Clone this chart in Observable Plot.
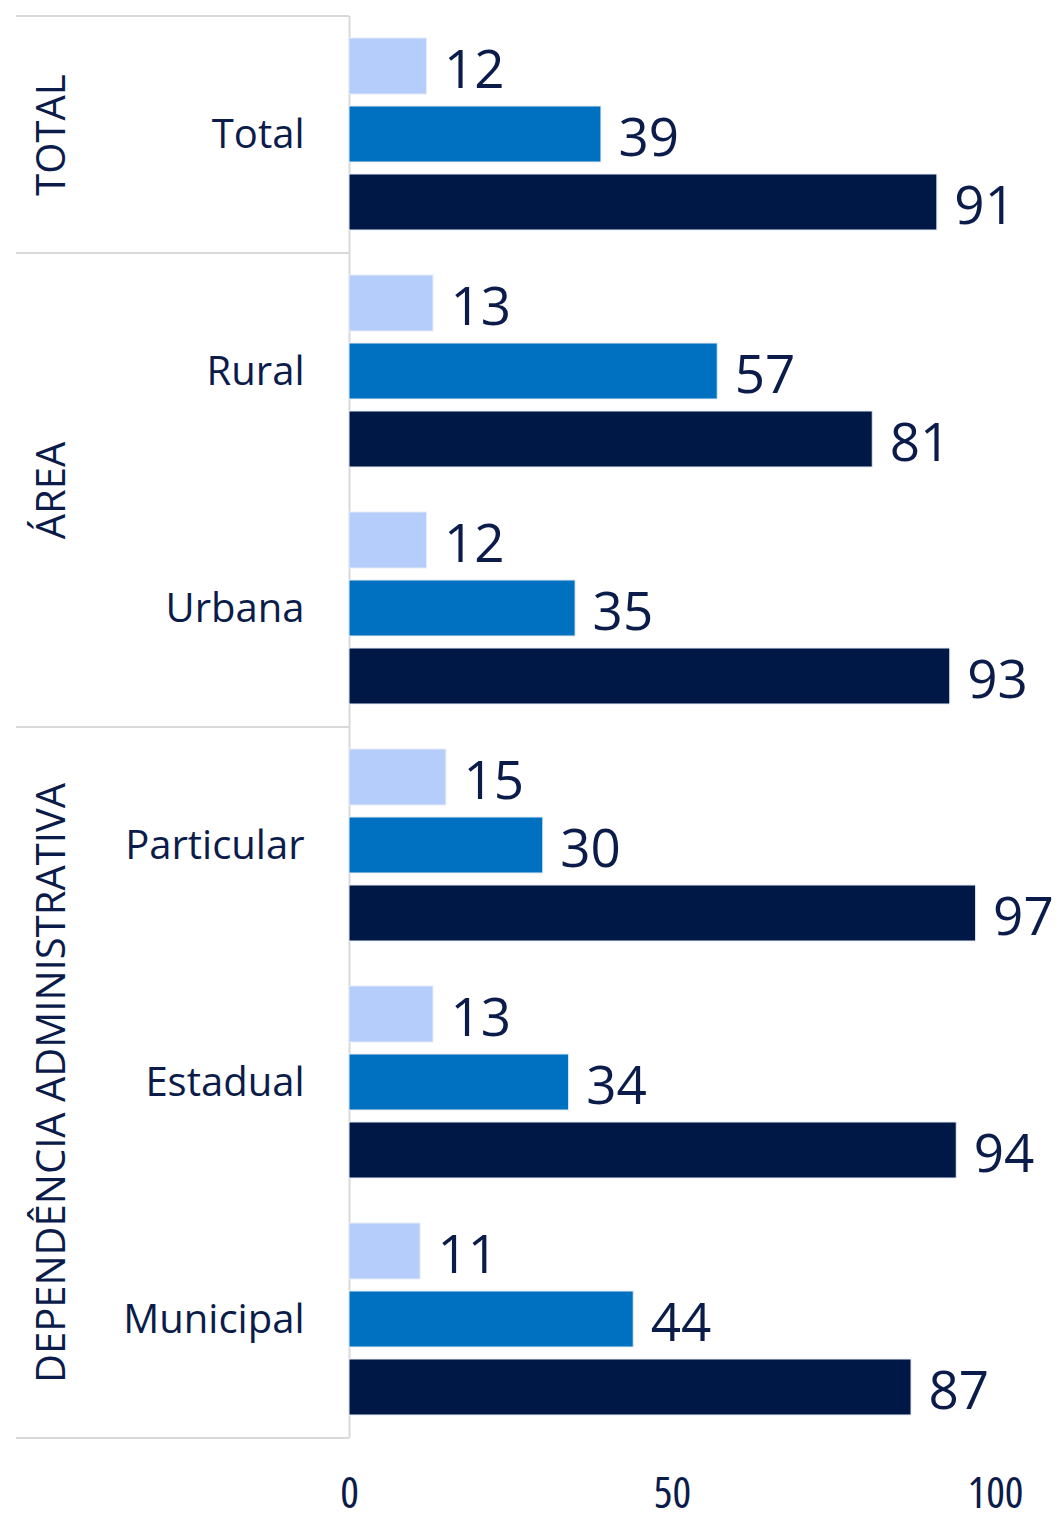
<!DOCTYPE html>
<html>
<head>
<meta charset="utf-8">
<script src="https://cdn.jsdelivr.net/npm/d3@7"></script>
<script src="https://cdn.jsdelivr.net/npm/@observablehq/plot@0.6"></script>
<style>
  html, body { margin: 0; padding: 0; background: #ffffff; }
  #chart { width: 1059px; height: 1518px; }
  .tick text { font-stretch: 80%; }
</style>
</head>
<body>
<div id="chart"></div>
<script>
// ---- data ----
const categories = ["Total", "Rural", "Urbana", "Particular", "Estadual", "Municipal"];
const seriesNames = ["Série 1", "Série 2", "Série 3"];
const series1 = [12, 13, 12, 15, 13, 11];
const series2 = [39, 57, 35, 30, 34, 44];
const series3 = [91, 81, 93, 97, 94, 87];
const groupLabels = ["TOTAL", "ÁREA", "DEPENDÊNCIA ADMINISTRATIVA"];
const groupAnchorCategory = ["Total", "Rural", "Estadual"];
const xTicks = [0, 50, 100];
const colors = ["#b4cdfb", "#0070c0", "#001845"];

const textColor = "#0b1c4a";
const numFont = "'Open Sans', 'Noto Sans', sans-serif";
const labelFont = "'Open Sans', 'Noto Sans', sans-serif";

const rows = [];
const seriesValues = [series1, series2, series3];
categories.forEach((c, i) => {
  seriesNames.forEach((s, j) => {
    rows.push({category: c, series: s, value: seriesValues[j][i]});
  });
});
const groups = groupLabels.map((g, i) => ({label: g, category: groupAnchorCategory[i]}));
const groupTextOptions = {
  fy: "category", text: "label", rotate: -90, lineAnchor: "middle",
  textAnchor: "middle", dx: -297, fill: textColor, fontSize: 40, fontFamily: labelFont
};

const plot = Plot.plot({
  width: 1059,
  height: 1518,
  marginTop: 15,
  marginBottom: 80,
  marginLeft: 349,
  marginRight: 64,
  style: {fontFamily: labelFont, fontSize: "40px", color: textColor, background: "#ffffff"},
  x: {domain: [0, 100], axis: null},
  y: {domain: seriesNames, axis: null, paddingInner: 0.17, paddingOuter: 0.32},
  fy: {domain: categories, padding: 0, axis: null},
  color: {domain: seriesNames, range: colors},
  marks: [
    Plot.ruleX([0], {stroke: "#d9d9d9", strokeWidth: 2}),
    Plot.barX(rows, {
      x: "value", y: "series", fy: "category", fill: "series",
      stroke: "#e6edf7", strokeWidth: 1
    }),
    Plot.text(rows, {
      x: "value", y: "series", fy: "category", text: d => String(d.value),
      textAnchor: "start", dx: 17, dy: 5, fill: textColor,
      fontSize: 53, fontFamily: numFont
    }),
    Plot.axisFy({
      anchor: "left", tickSize: 0, tickPadding: 45, label: null,
      fontSize: 40, fontFamily: labelFont, fill: textColor
    }),
    Plot.axisX({
      anchor: "bottom", ticks: xTicks, tickSize: 0, tickPadding: 38, label: null,
      fontSize: 44, fontFamily: numFont, fill: textColor, className: "tick"
    }),
    Plot.text(groups.filter(g => g.category !== "Rural"), {...groupTextOptions, frameAnchor: "left"}),
    Plot.text(groups.filter(g => g.category === "Rural"), {...groupTextOptions, frameAnchor: "bottom-left"})
  ]
});

document.getElementById("chart").appendChild(plot);

// separators between groups, positioned with the plot's fy scale
const fy = Plot.scale({fy: plot.scale("fy")});
const bw = fy.bandwidth;
const svg = d3.select(plot);
const sepYs = [
  fy.apply("Total"),
  fy.apply("Total") + bw,
  fy.apply("Urbana") + bw,
  fy.apply("Municipal") + bw
];
const x0 = Plot.scale({x: plot.scale("x")}).apply(0);
svg.insert("g", ":first-child")
  .selectAll("line")
  .data(sepYs)
  .join("line")
  .attr("x1", 16)
  .attr("x2", x0)
  .attr("y1", d => d)
  .attr("y2", d => d)
  .attr("stroke", "#d9d9d9")
  .attr("stroke-width", 2);
</script>
</body>
</html>
